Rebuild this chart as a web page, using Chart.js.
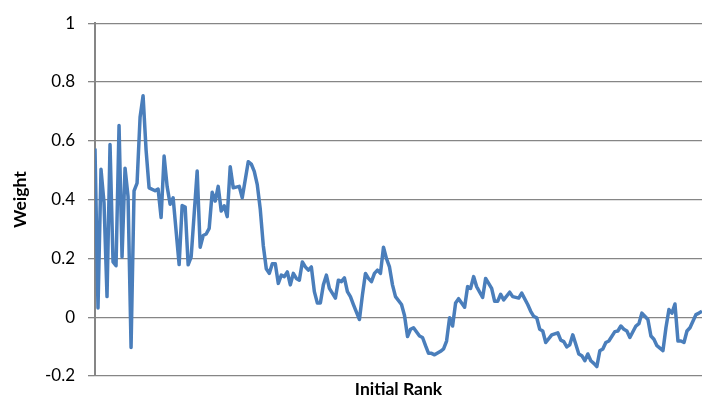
<!DOCTYPE html>
<html>
<head>
<meta charset="utf-8">
<script src="https://cdn.jsdelivr.net/npm/chart.js@4/dist/chart.umd.min.js"></script>
<style>
  html, body { margin: 0; padding: 0; background: #fff; }
  #wrap { width: 702px; height: 400px; }
</style>
</head>
<body>
<div id="wrap"><canvas id="weights"></canvas></div>
<script>
// initial rank of each point (gaps where the line is straight)
const ranks = [
  1, 2, 3, 4, 5, 6, 7, 8, 9, 10, 11, 12, 13, 14, 15, 16, 17, 18, 19, 21,
  22, 23, 24, 25, 26, 27, 29, 30, 31, 32, 33, 35, 36, 37, 38, 39, 40, 41, 42, 43,
  44, 45, 46, 47, 49, 50, 52, 53, 54, 55, 56, 57, 58, 59, 60, 61, 62, 63, 64, 65,
  66, 67, 68, 69, 70, 71, 72, 73, 74, 75, 76, 77, 78, 79, 81, 82, 83, 84, 85, 86,
  87, 89, 90, 91, 92, 93, 94, 95, 96, 97, 98, 99, 100, 101, 103, 104, 105, 106, 107, 109,
  110, 111, 112, 113, 114, 116, 117, 118, 119, 120, 121, 122, 124, 125, 126, 127, 128, 130, 131, 133,
  134, 135, 136, 137, 139, 140, 142, 143, 145, 146, 147, 148, 149, 150, 151, 153, 155, 156, 157, 158,
  159, 160, 161, 162, 163, 164, 165, 166, 167, 168, 169, 170, 171, 172, 174, 175, 176, 177, 178, 179,
  181, 182, 183, 185, 186, 187, 188, 190, 191, 192, 193, 194, 195, 196, 197, 198, 199, 201, 202, 203
];

const weights = [
  0.574, 0.031, 0.503, 0.39, 0.07, 0.587, 0.188, 0.175, 0.652, 0.205, 0.507, 0.41, -0.103, 0.43, 0.456, 0.68, 0.753, 0.568, 0.44, 0.43,
  0.436, 0.339, 0.548, 0.445, 0.384, 0.406, 0.179, 0.38, 0.375, 0.178, 0.205, 0.497, 0.238, 0.278, 0.283, 0.302, 0.425, 0.395, 0.445, 0.361,
  0.379, 0.342, 0.512, 0.44, 0.445, 0.406, 0.529, 0.521, 0.496, 0.451, 0.367, 0.244, 0.165, 0.149, 0.182, 0.182, 0.115, 0.143, 0.138, 0.154,
  0.11, 0.149, 0.132, 0.126, 0.188, 0.171, 0.16, 0.171, 0.087, 0.048, 0.048, 0.11, 0.143, 0.098, 0.065, 0.126, 0.121, 0.134, 0.087, 0.07,
  0.043, -0.008, 0.076, 0.149, 0.132, 0.121, 0.149, 0.16, 0.149, 0.238, 0.199, 0.171, 0.11, 0.07, 0.043, 0.006, -0.066, -0.041, -0.036, -0.064,
  -0.069, -0.097, -0.123, -0.123, -0.128, -0.116, -0.108, -0.081, -0.002, -0.03, 0.048, 0.063, 0.034, 0.104, 0.098, 0.138, 0.104, 0.067, 0.132, 0.098,
  0.054, 0.054, 0.078, 0.059, 0.085, 0.07, 0.065, 0.082, 0.043, 0.02, 0.003, -0.002, -0.041, -0.047, -0.086, -0.06, -0.053, -0.078, -0.083, -0.101,
  -0.094, -0.06, -0.092, -0.125, -0.131, -0.148, -0.125, -0.148, -0.157, -0.168, -0.114, -0.108, -0.086, -0.081, -0.049, -0.047, -0.03, -0.041, -0.047, -0.069,
  -0.03, -0.022, 0.014, -0.008, -0.064, -0.075, -0.097, -0.114, -0.036, 0.026, 0.014, 0.045, -0.081, -0.081, -0.086, -0.047, -0.036, 0.009, 0.014, 0.02
];

const yTicks = [-0.2, 0, 0.2, 0.4, 0.6, 0.8, 1];

const points = ranks.map((r, i) => ({ x: r, y: weights[i] }));

const ctx = document.getElementById('weights').getContext('2d');

const weightChart = new Chart(ctx, {
  type: 'line',
  data: {
    datasets: [{
      label: 'Weight',
      data: points,
      borderColor: 'rgb(74, 126, 187)',
      borderWidth: 3.5,
      borderJoinStyle: 'round',
      pointRadius: 0,
      tension: 0,
      fill: false
    }]
  },
  options: {
    responsive: true,
    maintainAspectRatio: false,
    animation: false,
    layout: {
      padding: { top: 18, right: 0, bottom: 0, left: 0 }
    },
    scales: {
      x: {
        type: 'linear',
        min: 1,
        max: ranks[ranks.length - 1],
        grid: { display: false },
        border: { display: false },
        ticks: { display: false },
        title: {
          display: true,
          text: 'Initial Rank',
          color: '#000',
          font: { family: 'Lato', size: 17.5, weight: 'bold' },
          padding: { top: 0, bottom: 0 }
        },
        afterFit: (scale) => { scale.height = 24; }
      },
      y: {
        min: -0.2,
        max: 1,
        afterBuildTicks: (scale) => {
          scale.ticks = yTicks.map(v => ({ value: v }));
        },
        grid: {
          color: '#868686',
          lineWidth: 1.3,
          tickLength: 7
        },
        border: { color: '#868686', width: 2 },
        ticks: {
          color: '#000',
          padding: 13,
          font: { family: 'Lato', size: 17 },
          callback: (v) => String(Number(v.toFixed(1)))
        },
        title: {
          display: true,
          text: 'Weight',
          color: '#000',
          font: { family: 'Lato', size: 17.5, weight: 'bold' },
          padding: { top: 10, bottom: 0 }
        },
        afterFit: (scale) => { scale.width = 95; }
      }
    },
    plugins: {
      legend: { display: false },
      tooltip: { enabled: false }
    }
  }
});
</script>
</body>
</html>
